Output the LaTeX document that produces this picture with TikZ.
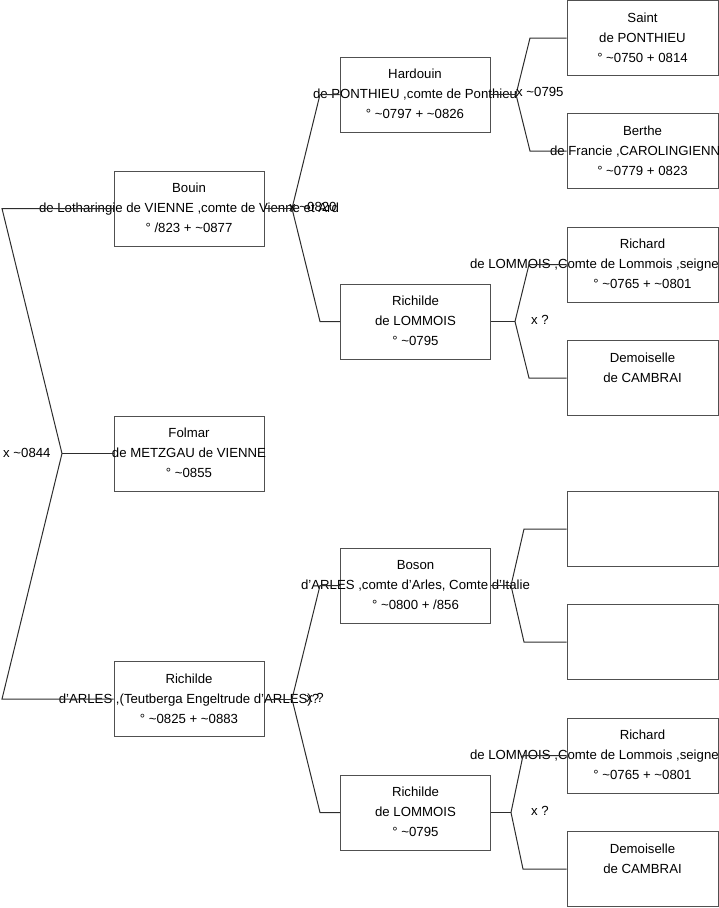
\documentclass[tikz,border=0pt]{standalone}
\usepackage{fontspec}
\setmainfont{Liberation Sans}
\usepackage{xcolor}
\definecolor{boxgray}{RGB}{80,80,80}
\definecolor{linegray}{RGB}{45,45,45}
\usepackage{tikz}
\usetikzlibrary{positioning}
\newcommand{\circa}{\textasciitilde}
\newcommand{\person}[3]{\strut#1\\\strut#2\\\strut#3}
\tikzset{
  personbox/.style={draw=boxgray, line width=1pt, minimum width=150pt, minimum height=75pt, inner sep=0pt},
  outerbox/.style={personbox, minimum width=151pt},
  persontext/.style={align=center, font=\fontsize{13.2}{20}\selectfont, inner sep=0pt},
  link/.style={draw=linegray, line width=1pt},
  unionlabel/.style={anchor=west, font=\fontsize{13.2}{20}\selectfont, inner sep=0pt}
}

\begin{document}
\begin{tikzpicture}[x=1pt, y=-1pt]
  \useasboundingbox (0,0) rectangle (719,908);

  % --- Generation 1 ---
  \node[personbox] (bouin) at (189,208.5) {};
  \node[persontext] (bouin-txt) at (bouin) {\person{Bouin}{de Lotharingie de VIENNE ,comte de Vienne et Ard}{° /823 + \circa0877}};
  \node[personbox] (folmar) at (189,453.5) {};
  \node[persontext] (folmar-txt) at (folmar) {\person{Folmar}{de METZGAU de VIENNE}{° \circa0855}};
  \node[personbox] (richilde) at (189,699) {};
  \node[persontext] (richilde-txt) at (richilde) {\person{Richilde}{d'ARLES ,(Teutberga Engeltrude d'ARLES)?}{° \circa0825 + \circa0883}};

  % --- Generation 2 ---
  \node[personbox] (hardouin) at (415,94.5) {};
  \node[persontext] (hardouin-txt) at (hardouin) {\person{Hardouin}{de PONTHIEU ,comte de Ponthieu}{° \circa0797 + \circa0826}};
  \node[personbox] (lommoisA) at (415.5,321.5) {};
  \node[persontext] (lommoisA-txt) at (lommoisA) {\person{Richilde}{de LOMMOIS}{° \circa0795}};
  \node[personbox] (boson) at (415.5,585.5) {};
  \node[persontext] (boson-txt) at (boson) {\person{Boson}{d'ARLES ,comte d'Arles, Comte d'Italie}{° \circa0800 + /856}};
  \node[personbox] (lommoisB) at (415.5,812.5) {};
  \node[persontext] (lommoisB-txt) at (lommoisB) {\person{Richilde}{de LOMMOIS}{° \circa0795}};

  % --- Generation 3 ---
  \node[outerbox] (saint) at (642.5,38) {};
  \node[persontext] (saint-txt) at (saint) {\person{Saint}{de PONTHIEU}{° \circa0750 + 0814}};
  \node[outerbox] (berthe) at (642.5,151) {};
  \node[persontext] (berthe-txt) at (berthe) {\person{Berthe}{\makebox[185pt][l]{de Francie ,CAROLINGIENN}}{° \circa0779 + 0823}};
  \node[outerbox] (richardA) at (642.5,264.5) {};
  \node[persontext] (richardA-txt) at (richardA) {\person{Richard}{\makebox[345pt][l]{de LOMMOIS ,Comte de Lommois ,seigne}}{° \circa0765 + \circa0801}};
  \node[outerbox] (cambraiA) at (642.5,378) {};
  \node[persontext] (cambraiA-txt) at (cambraiA) {\person{Demoiselle}{de CAMBRAI}{}};
  \node[outerbox] (unknownA) at (642.5,529) {};
  \node[outerbox] (unknownB) at (642.5,642) {};
  \node[outerbox] (richardB) at (642.5,755.5) {};
  \node[persontext] (richardB-txt) at (richardB) {\person{Richard}{\makebox[345pt][l]{de LOMMOIS ,Comte de Lommois ,seigne}}{° \circa0765 + \circa0801}};
  \node[outerbox] (cambraiB) at (642.5,869) {};
  \node[persontext] (cambraiB-txt) at (cambraiB) {\person{Demoiselle}{de CAMBRAI}{}};

  % --- Forks ---
  \coordinate (fork0) at (62,453.5);
  \coordinate (fork0a) at (2,208.5);
  \coordinate (fork0b) at (2,699);
  \coordinate (fork1) at (292,208.5);
  \coordinate (fork1a) at (320,94.5);
  \coordinate (fork1b) at (320,321.5);
  \coordinate (fork2) at (292,699);
  \coordinate (fork2a) at (320,585.5);
  \coordinate (fork2b) at (320,812.5);
  \coordinate (fork3) at (516,94.5);
  \coordinate (fork3a) at (530,38);
  \coordinate (fork3b) at (530,151);
  \coordinate (fork4) at (515,321.5);
  \coordinate (fork4a) at (529,264.5);
  \coordinate (fork4b) at (529,378);
  \coordinate (fork5) at (511,585.5);
  \coordinate (fork5a) at (524,529);
  \coordinate (fork5b) at (524,642);
  \coordinate (fork6) at (511,812.5);
  \coordinate (fork6a) at (523,755.5);
  \coordinate (fork6b) at (523,869);

  \draw[link] (folmar.west) -- (fork0);
  \draw[link] (fork0) -- (fork0a) -- (bouin.west);
  \draw[link] (fork0) -- (fork0b) -- (richilde.west);
  \draw[link] (bouin.east) -- (fork1);
  \draw[link] (fork1) -- (fork1a) -- (hardouin.west);
  \draw[link] (fork1) -- (fork1b) -- (lommoisA.west);
  \draw[link] (richilde.east) -- (fork2);
  \draw[link] (fork2) -- (fork2a) -- (boson.west);
  \draw[link] (fork2) -- (fork2b) -- (lommoisB.west);
  \draw[link] (hardouin.east) -- (fork3);
  \draw[link] (fork3) -- (fork3a) -- (saint.west);
  \draw[link] (fork3) -- (fork3b) -- (berthe.west);
  \draw[link] (lommoisA.east) -- (fork4);
  \draw[link] (fork4) -- (fork4a) -- (richardA.west);
  \draw[link] (fork4) -- (fork4b) -- (cambraiA.west);
  \draw[link] (boson.east) -- (fork5);
  \draw[link] (fork5) -- (fork5a) -- (unknownA.west);
  \draw[link] (fork5) -- (fork5b) -- (unknownB.west);
  \draw[link] (lommoisB.east) -- (fork6);
  \draw[link] (fork6) -- (fork6a) -- (richardB.west);
  \draw[link] (fork6) -- (fork6b) -- (cambraiB.west);

  % --- Marriage labels ---
  \node[unionlabel] (union0) at (3,452.5) {x \circa0844};
  \node[unionlabel] (union1) at (289,207) {x \circa0820};
  \node[unionlabel] (union2) at (306,698) {x ?};
  \node[unionlabel] (union3) at (516,92) {x \circa0795};
  \node[unionlabel] (union4) at (531,320) {x ?};
  \node[unionlabel] (union6) at (531,811) {x ?};
\end{tikzpicture}
\end{document}
